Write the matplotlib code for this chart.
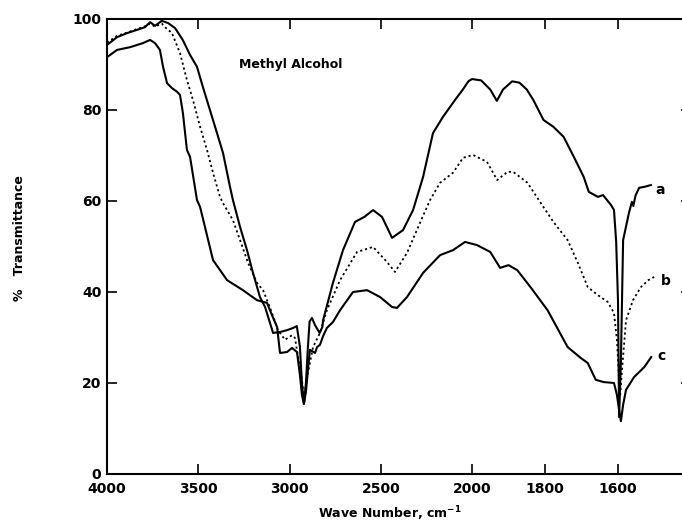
"""IR transmittance spectra of methyl alcohol (curves a, b, c)"""
import numpy as np
import matplotlib
matplotlib.use('Agg')
import matplotlib.pyplot as plt

# --- spectra: wave number (cm-1) and % transmittance ---
wn_a = [4000, 3945, 3890, 3836, 3792, 3764, 3737, 3700, 3665, 3627, 3585, 3545,
        3507, 3475, 3436, 3397, 3364, 3326, 3310, 3271, 3233, 3200, 3162, 3134,
        3107, 3090, 3052, 3014, 2980, 2960, 2943, 2932, 2921, 2910, 2899, 2890,
        2877, 2860, 2835, 2820, 2816, 2762, 2707, 2641, 2590, 2542, 2493, 2438,
        2378, 2323, 2268, 2214, 2159, 2093, 2050, 2020, 2000, 1975, 1950, 1932,
        1915, 1890, 1870, 1850, 1832, 1804, 1777, 1749, 1721, 1694, 1680, 1655,
        1641, 1619, 1611, 1605, 1600, 1597, 1592, 1586, 1570, 1562, 1558, 1552,
        1542, 1528, 1510]
tr_a = [94.3, 96.0, 96.9, 97.6, 98.2, 99.3, 98.5, 99.6, 99.1, 98.0, 95.4, 92.1,
        89.5, 85.1, 80.0, 74.9, 70.5, 63.1, 60.2, 54.3, 49.2, 44.2, 38.9, 36.7,
        33.2, 31.0, 31.2, 31.6, 32.1, 32.5, 28.0, 20.0, 15.4, 20.0, 28.0, 33.5,
        34.3, 32.7, 31.0, 32.3, 33.8, 42.0, 49.2, 55.4, 56.5, 58.0, 56.5, 51.9,
        53.6, 58.0, 65.3, 74.9, 78.5, 82.2, 84.5, 86.3, 86.8, 86.5, 84.5, 82.0,
        84.5, 86.3, 86.0, 84.5, 82.2, 77.8, 76.3, 74.1, 69.7, 65.3, 62.0, 60.9,
        61.3, 59.1, 58.0, 51.0, 38.0, 12.5, 25.0, 51.4, 57.4, 59.8, 58.9, 61.2,
        62.9, 63.1, 63.5]

wn_b = [4000, 3945, 3890, 3836, 3792, 3764, 3737, 3700, 3682, 3644, 3600, 3562,
        3529, 3490, 3452, 3419, 3381, 3364, 3310, 3271, 3227, 3178, 3145, 3123,
        3096, 3063, 3025, 2986, 2970, 2953, 2932, 2921, 2910, 2899, 2871, 2833,
        2795, 2723, 2630, 2542, 2466, 2422, 2356, 2285, 2230, 2175, 2104, 2049,
        1997, 1959, 1931, 1903, 1887, 1848, 1812, 1777, 1738, 1710, 1683, 1655,
        1628, 1611, 1603, 1597, 1594, 1589, 1578, 1559, 1537, 1517, 1501]
tr_b = [94.8, 96.3, 97.0, 97.8, 98.4, 99.0, 98.3, 99.0, 98.2, 96.9, 92.5, 86.6,
        82.2, 76.3, 71.2, 66.2, 60.9, 59.5, 55.8, 51.4, 46.4, 42.0, 40.4, 38.2,
        35.4, 31.6, 29.5, 30.5, 29.9, 25.7, 20.7, 16.7, 19.6, 22.2, 27.9, 31.0,
        36.0, 42.6, 48.8, 49.9, 46.6, 44.4, 48.6, 55.2, 60.2, 64.0, 66.2, 69.5,
        70.1, 68.6, 64.6, 66.4, 66.4, 64.0, 59.6, 55.4, 51.4, 46.4, 41.1, 39.3,
        37.8, 35.4, 29.5, 20.7, 17.4, 22.9, 33.8, 38.2, 41.1, 42.6, 43.3]

wn_c = [4000, 3945, 3874, 3803, 3764, 3737, 3710, 3693, 3671, 3644, 3616, 3600,
        3584, 3562, 3545, 3507, 3490, 3419, 3342, 3255, 3178, 3123, 3096, 3068,
        3052, 3014, 2986, 2959, 2943, 2932, 2921, 2910, 2899, 2888, 2860, 2849,
        2833, 2816, 2795, 2762, 2723, 2652, 2575, 2504, 2438, 2411, 2356, 2268,
        2175, 2104, 2038, 1986, 1950, 1923, 1900, 1876, 1840, 1793, 1738, 1702,
        1683, 1661, 1639, 1611, 1603, 1597, 1592, 1586, 1578, 1556, 1528, 1509]
tr_c = [91.6, 93.2, 93.8, 94.7, 95.4, 94.7, 93.2, 89.5, 85.9, 84.8, 84.0, 83.3,
        79.3, 71.2, 69.7, 60.2, 58.7, 47.0, 42.6, 40.4, 38.2, 37.6, 34.9, 32.3,
        26.6, 26.8, 27.7, 26.8, 21.8, 17.4, 15.4, 18.0, 22.9, 27.3, 26.6, 27.9,
        28.4, 30.3, 32.1, 33.4, 36.0, 40.0, 40.4, 38.9, 36.7, 36.5, 38.9, 44.2,
        48.1, 49.2, 51.0, 50.3, 48.8, 45.3, 45.9, 44.8, 41.1, 36.0, 27.9, 25.5,
        24.4, 20.7, 20.2, 20.0, 17.4, 14.1, 11.6, 15.2, 18.5, 21.3, 23.5, 25.7]

x_ticks = [4000, 3500, 3000, 2500, 2000, 1800, 1600]
y_ticks = [0, 20, 40, 60, 80, 100]


# chart paper switches to double scale below 2000 cm-1
def _forward(w):
    w = np.asarray(w, dtype=float)
    return np.where(w >= 2000, w, 2000 - (2000 - w) * 2.0)


def _inverse(u):
    u = np.asarray(u, dtype=float)
    return np.where(u >= 2000, u, 2000 - (2000 - u) / 2.0)


def main():
    fig = plt.figure(figsize=(6.82, 5.23), dpi=100)
    ax = fig.add_axes([0.1569, 0.0937, 0.8563, 0.870])
    ax.set_xscale('function', functions=(_forward, _inverse))

    ax.plot(wn_a, tr_a, color='black', linewidth=1.5)
    ax.plot(wn_b, tr_b, color='black', linewidth=1.3, linestyle=(0, (1.2, 1.6)))
    ax.plot(wn_c, tr_c, color='black', linewidth=1.5)

    ax.set_xlim(4000, 1400)
    ax.set_ylim(0, 100)
    ax.set_xticks(x_ticks)
    ax.set_xticklabels([str(t) for t in x_ticks])
    ax.set_yticks(y_ticks)
    ax.minorticks_off()
    ax.tick_params(axis='both', direction='in', length=7, width=1.2,
                   top=True, right=True, labelsize=10)
    ax.tick_params(axis='x', pad=6)
    ax.tick_params(axis='y', pad=4)
    for lbl in ax.get_xticklabels() + ax.get_yticklabels():
        lbl.set_fontweight('bold')
    for sp in ax.spines.values():
        sp.set_linewidth(1.5)

    ax.text(3277, 90.0, 'Methyl Alcohol', fontsize=9, fontweight='bold',
            ha='left', va='center')
    ax.text(1497, 62.5, 'a', fontsize=10, fontweight='bold', va='center')
    ax.text(1483, 42.5, 'b', fontsize=10, fontweight='bold', va='center')
    ax.text(1493, 26.0, 'c', fontsize=10, fontweight='bold', va='center')

    fig.text(390 / 682, 1 - 514 / 523, r'Wave Number, cm$^{\mathbf{-1}}$',
             fontsize=9, fontweight='bold', ha='center', va='center')
    fig.text(20 / 682, 1 - 238 / 523, '%   Transmittance', fontsize=9,
             fontweight='bold', ha='center', va='center', rotation=90)

    fig.savefig('out.png', dpi=100)
    plt.close(fig)


if __name__ == '__main__':
    main()
